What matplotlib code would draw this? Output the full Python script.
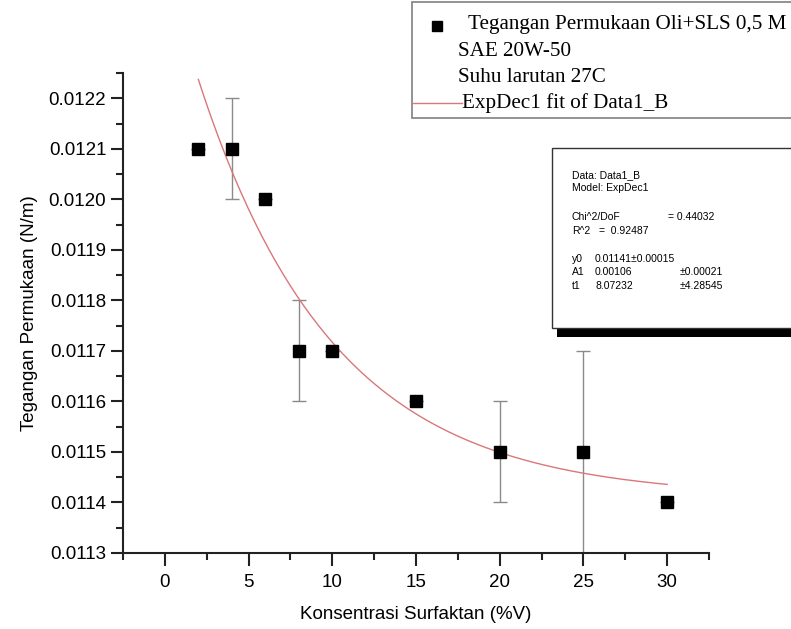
import matplotlib
matplotlib.use("Agg")
import matplotlib.pyplot as plt
import numpy as np
from matplotlib.lines import Line2D
from matplotlib.patches import Rectangle
from matplotlib.ticker import MultipleLocator, FormatStrFormatter

plt.rcParams['font.family'] = ['Liberation Sans', 'DejaVu Sans']

# konsentrasi surfaktan (%V) dan tegangan permukaan (N/m)
konsentrasi = np.array([2, 4, 6, 8, 10, 15, 20, 25, 30])
tegangan = np.array([0.0121, 0.0121, 0.0120, 0.0117, 0.0117, 0.0116, 0.0115, 0.0115, 0.0114])
galat = np.array([0, 0.0001, 0, 0.0001, 0, 0, 0.0001, 0.0002, 0])

# parameter ExpDec1: y = y0 + A1*exp(-x/t1)
y0 = 0.01141
A1 = 0.00106
t1 = 8.07232

W, H = 791, 629
fig = plt.figure(figsize=(W / 100, H / 100), dpi=100)
ax = fig.add_axes([123 / W, 1 - 553 / H, (709 - 123) / W, (553 - 73) / H])

ax.errorbar(konsentrasi, tegangan, yerr=galat, fmt='none', ecolor='#8a8a8a',
            elinewidth=1, capsize=5, capthick=1, zorder=2)
ax.plot(konsentrasi, tegangan, 's', color='black', markersize=8, zorder=3)

xfit = np.linspace(konsentrasi.min(), konsentrasi.max(), 200)
yfit = y0 + A1 * np.exp(-xfit / t1)
ax.plot(xfit, yfit, '-', color='#d9777a', linewidth=1, zorder=2)

ax.set_xlim(-2.5, 32.5)
ax.set_ylim(0.0113, 0.01225)
ax.xaxis.set_major_locator(MultipleLocator(5))
ax.xaxis.set_minor_locator(MultipleLocator(2.5))
ax.yaxis.set_major_locator(MultipleLocator(0.0001))
ax.yaxis.set_minor_locator(MultipleLocator(0.00005))
ax.yaxis.set_major_formatter(FormatStrFormatter('%.4f'))
for s in ['top', 'right']:
    ax.spines[s].set_visible(False)
for s in ['left', 'bottom']:
    ax.spines[s].set_linewidth(1.5)
    ax.spines[s].set_color('#222222')
ax.tick_params(which='major', length=9, width=1.5, labelsize=13.5, color='#222222', pad=3)
ax.tick_params(which='minor', length=5, width=1.5, color='#222222')
ax.tick_params(axis='x', which='major', pad=6)

ax.set_xlabel('Konsentrasi Surfaktan (%V)', fontsize=13.5, labelpad=11)
ax.set_ylabel('Tegangan Permukaan (N/m)', fontsize=13.5, labelpad=8)

# kotak legenda
serif = 'Liberation Serif'
fig.add_artist(Rectangle((412, H - 118), 400, 116, transform=None, facecolor='white',
                         edgecolor='#808080', linewidth=1.2, zorder=5))
fig.add_artist(Line2D([437], [H - 26], marker='s', color='black', markersize=7.5,
                      transform=None, zorder=6))
fig.add_artist(Line2D([412, 462], [H - 103, H - 103], color='#d9777a', linewidth=1,
                      transform=None, zorder=6))
legend_lines = ['Tegangan Permukaan Oli+SLS 0,5 M', 'SAE 20W-50',
                'Suhu larutan 27C', 'ExpDec1 fit of Data1_B']
legend_x = [468, 458, 458, 462]
for i, teks in enumerate(legend_lines):
    fig.text(legend_x[i] / W, 1 - (25 + 26 * i) / H, teks, family=serif,
             fontsize=15.2, va='center', ha='left', zorder=7)

# kotak hasil fitting
fig.add_artist(Rectangle((557, H - 337), 300, 9, transform=None, facecolor='black',
                         edgecolor='none', zorder=5))
fig.add_artist(Rectangle((552, H - 328), 300, 180, transform=None, facecolor='white',
                         edgecolor='#333333', linewidth=1, zorder=6))
info = [
    (572, 175, 'Data: Data1_B'),
    (572, 188, 'Model: ExpDec1'),
    (572, 217, 'Chi^2/DoF'),
    (668, 217, '= 0.44032'),
    (572, 231, 'R^2'),
    (599, 231, '=  0.92487'),
    (572, 259, 'y0'),
    (595, 259, '0.01141\u00b10.00015'),
    (572, 272, 'A1'),
    (595, 272, '0.00106'),
    (680, 272, '\u00b10.00021'),
    (572, 286, 't1'),
    (595, 286, '8.07232'),
    (680, 286, '\u00b14.28545'),
]
for px, py, teks in info:
    fig.text(px / W, 1 - py / H, teks, fontsize=7.5, va='center', ha='left', zorder=7)

fig.savefig('out.png', dpi=100)
